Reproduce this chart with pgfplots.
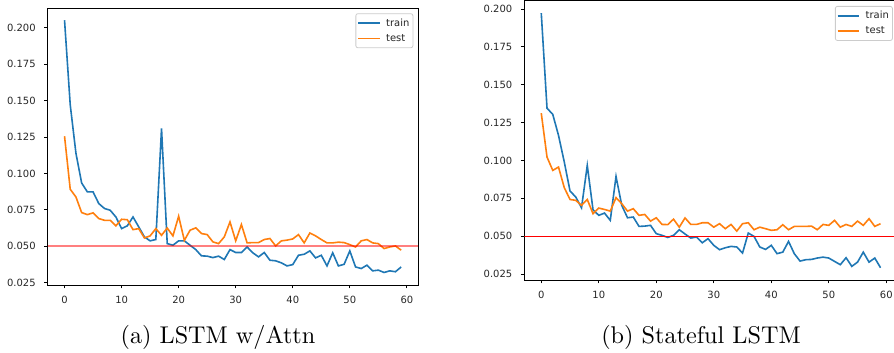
\documentclass[border=0pt]{standalone}
\usepackage{pgfplots}
\pgfplotsset{compat=1.18}
\usepackage{fontspec}
\newfontfamily\dejavu{DejaVu Sans}
\definecolor{tabblue}{HTML}{1F77B4}
\definecolor{taborange}{HTML}{FF7F0E}
\definecolor{ticktext}{HTML}{262626}

\pgfplotsset{
 mplstyle/.style={
  scale only axis,
  xmin=-2.95, xmax=61.95,
  xtick={0,10,20,30,40,50,60},
  ytick={0.025,0.050,0.075,0.100,0.125,0.150,0.175,0.200},
  tick align=outside,
  major tick length=3.5bp,
  xtick pos=left, ytick pos=left,
  tick style={black, line width=0.8bp},
  axis line style={line width=0.8bp},
  /pgf/number format/assume math mode=true,
  tick label style={font=\dejavu\fontsize{10}{12}\selectfont, text=ticktext, inner sep=0pt},
  yticklabel style={/pgf/number format/.cd, fixed, fixed zerofill, precision=3},
  yticklabel shift=8.4bp,
  xticklabel shift=7.8bp,
  legend style={at={(rel axis cs:1,1)}, anchor=north east, xshift=-4.7bp, yshift=-5.3bp,
    draw=black!20, line width=0.8bp, rounded corners=2bp, fill=white, fill opacity=0.8, text opacity=1,
    font=\dejavu\fontsize{10}{12}\selectfont, text=ticktext, inner xsep=1.5bp, inner ysep=3bp, row sep=2.5bp,
    nodes={inner sep=2bp, text depth=0.15em}},
  legend cell align=left,
  legend image code/.code={\draw[##1, line width=1.5bp] (0bp,0bp) -- (21.7bp,0bp); \path (25.3bp,0bp);},
 }
}

\begin{document}
\begin{tikzpicture}
% ---------------- (a) LSTM w/Attn ----------------
\begin{axis}[mplstyle,
  at={(47.7bp,68bp)}, anchor=south west,
  width=370.3bp, height=277bp,
  ymin=0.0234, ymax=0.2135]
\addplot[tabblue, line width=1.6bp] coordinates {
(0,0.2051) (1,0.1470) (2,0.1138) (3,0.0934) (4,0.0873) (5,0.0873) (6,0.0793) (7,0.0759) (8,0.0747) (9,0.0701)
(10,0.0621) (11,0.0640) (12,0.0701) (13,0.0633) (14,0.0564) (15,0.0537) (16,0.0546) (17,0.1308) (18,0.0518) (19,0.0507)
(20,0.0537) (21,0.0537) (22,0.0507) (23,0.0477) (24,0.0434) (25,0.0432) (26,0.0422) (27,0.0432) (28,0.0409) (29,0.0477)
(30,0.0457) (31,0.0457) (32,0.0495) (33,0.0455) (34,0.0427) (35,0.0457) (36,0.0404) (37,0.0400) (38,0.0386) (39,0.0365)
(40,0.0374) (41,0.0438) (42,0.0445) (43,0.0468) (44,0.0420) (45,0.0438) (46,0.0365) (47,0.0455) (48,0.0365) (49,0.0376)
(50,0.0468) (51,0.0358) (52,0.0347) (53,0.0370) (54,0.0331) (55,0.0336) (56,0.0320) (57,0.0331) (58,0.0325) (59,0.0358)
};
\addlegendentry{train}
\addplot[taborange, line width=1.6bp] coordinates {
(0,0.1255) (1,0.0891) (2,0.0838) (3,0.0731) (4,0.0717) (5,0.0729) (6,0.0690) (7,0.0678) (8,0.0678) (9,0.0640)
(10,0.0685) (11,0.0682) (12,0.0614) (13,0.0621) (14,0.0557) (15,0.0571) (16,0.0621) (17,0.0575) (18,0.0625) (19,0.0571)
(20,0.0706) (21,0.0540) (22,0.0610) (23,0.0626) (24,0.0587) (25,0.0580) (26,0.0530) (27,0.0518) (28,0.0564) (29,0.0667)
(30,0.0537) (31,0.0649) (32,0.0523) (33,0.0525) (34,0.0525) (35,0.0546) (36,0.0553) (37,0.0502) (38,0.0537) (39,0.0542)
(40,0.0550) (41,0.0580) (42,0.0523) (43,0.0591) (44,0.0571) (45,0.0546) (46,0.0523) (47,0.0523) (48,0.0528) (49,0.0525)
(50,0.0511) (51,0.0495) (52,0.0537) (53,0.0546) (54,0.0523) (55,0.0518) (56,0.0484) (57,0.0495) (58,0.0502) (59,0.0473)
};
\addlegendentry{test}
\addplot[forget plot, red, opacity=0.5, line width=1.6bp] coordinates {(-2.95,0.05) (61.95,0.05)};
\end{axis}

% ---------------- (b) Stateful LSTM ----------------
\begin{axis}[mplstyle,
  at={(524.3bp,73bp)}, anchor=south west,
  width=373.2bp, height=279.3bp,
  ymin=0.0210, ymax=0.2055]
\addplot[tabblue, line width=1.6bp] coordinates {
(0,0.1973) (1,0.1345) (2,0.1304) (3,0.1165) (4,0.0990) (5,0.0798) (6,0.0758) (7,0.0687) (8,0.0967) (9,0.0674)
(10,0.0637) (11,0.0652) (12,0.0604) (13,0.0894) (14,0.0703) (15,0.0621) (16,0.0626) (17,0.0564) (18,0.0566) (19,0.0571)
(20,0.0516) (21,0.0505) (22,0.0491) (23,0.0505) (24,0.0542) (25,0.0514) (26,0.0487) (27,0.0494) (28,0.0456) (29,0.0483)
(30,0.0439) (31,0.0410) (32,0.0423) (33,0.0432) (34,0.0428) (35,0.0388) (36,0.0520) (37,0.0498) (38,0.0428) (39,0.0412)
(40,0.0439) (41,0.0384) (42,0.0394) (43,0.0465) (44,0.0384) (45,0.0335) (46,0.0344) (47,0.0346) (48,0.0355) (49,0.0361)
(50,0.0355) (51,0.0333) (52,0.0311) (53,0.0357) (54,0.0300) (55,0.0328) (56,0.0394) (57,0.0328) (58,0.0355) (59,0.0291)
};
\addlegendentry{train}
\addplot[taborange, line width=1.6bp] coordinates {
(0,0.1312) (1,0.1022) (2,0.0934) (3,0.0956) (4,0.0820) (5,0.0742) (6,0.0736) (7,0.0703) (8,0.0742) (9,0.0648)
(10,0.0685) (11,0.0676) (12,0.0665) (13,0.0754) (14,0.0714) (15,0.0665) (16,0.0681) (17,0.0637) (18,0.0643) (19,0.0599)
(20,0.0621) (21,0.0577) (22,0.0576) (23,0.0612) (24,0.0559) (25,0.0620) (26,0.0577) (27,0.0577) (28,0.0588) (29,0.0588)
(30,0.0559) (31,0.0582) (32,0.0549) (33,0.0577) (34,0.0533) (35,0.0582) (36,0.0588) (37,0.0542) (38,0.0559) (39,0.0549)
(40,0.0538) (41,0.0542) (42,0.0575) (43,0.0542) (44,0.0564) (45,0.0564) (46,0.0564) (47,0.0566) (48,0.0542) (49,0.0577)
(50,0.0571) (51,0.0604) (52,0.0559) (53,0.0577) (54,0.0564) (55,0.0599) (56,0.0571) (57,0.0615) (58,0.0564) (59,0.0582)
};
\addlegendentry{test}
\addplot[forget plot, red, line width=1bp] coordinates {(-2.95,0.05) (61.95,0.05)};
\end{axis}

\node[anchor=base, scale=2.43, inner sep=0pt] at (218bp,9.8bp) {\fontsize{10}{12}\selectfont (a) LSTM w/Attn};
\node[anchor=base, scale=2.43, inner sep=0pt] at (701bp,9.8bp) {\fontsize{10}{12}\selectfont (b) Stateful LSTM};

\pgfresetboundingbox
\useasboundingbox (0bp,0bp) rectangle (894bp,353bp);
\end{tikzpicture}
\end{document}
